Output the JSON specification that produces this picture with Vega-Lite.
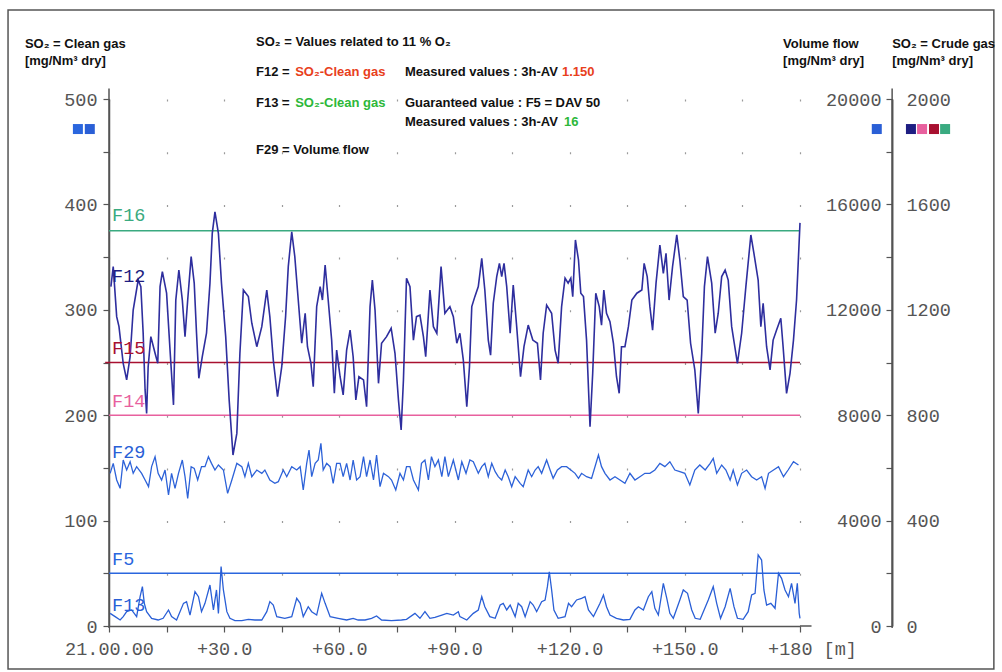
{
  "$schema": "https://vega.github.io/schema/vega-lite/v6.json",
  "width": 691,
  "height": 527,
  "autosize": {"type": "none"},
  "padding": {"left": 109, "top": 99, "right": 202, "bottom": 46},
  "background": "white",
  "config": {
    "view": {"stroke": null},
    "axis": {"labelFlush": false, "labelOverlap": false, "labelFont": "Liberation Mono", "labelFontSize": 18.5, "labelColor": "#555555", "title": null},
    "axisX": {
      "domainColor": "#555555", "domainWidth": 1.5,
      "tickColor": "#555555", "tickSize": 6, "tickWidth": 1.2,
      "labelPadding": 7,
      "grid": true, "gridColor": "#9a9a9a", "gridWidth": 1.2, "gridDash": [2, 50.7]
    }
  },
  "datasets": {
    "f12": [
      {"t":0.5,"c":1288},{"t":1.1,"c":1364},{"t":2.0,"c":1174},{"t":2.6,"c":1136},{"t":3.7,"c":997},{"t":4.6,"c":934},{"t":5.5,"c":1022},{"t":6.3,"c":1199},{"t":7.6,"c":1313},{"t":8.3,"c":1288},{"t":8.9,"c":1111},{"t":9.4,"c":896},{"t":9.8,"c":807},{"t":10.2,"c":984},{"t":10.9,"c":1098},{"t":12.0,"c":1035},{"t":12.7,"c":997},{"t":13.3,"c":1288},{"t":13.9,"c":1345},{"t":15.0,"c":1263},{"t":15.9,"c":1047},{"t":16.8,"c":839},{"t":17.4,"c":1237},{"t":18.2,"c":1351},{"t":19.1,"c":1237},{"t":19.8,"c":1098},{"t":20.5,"c":1237},{"t":21.4,"c":1402},{"t":22.2,"c":1301},{"t":22.8,"c":1111},{"t":23.4,"c":940},{"t":24.3,"c":1022},{"t":25.4,"c":1111},{"t":26.3,"c":1301},{"t":26.9,"c":1490},{"t":27.6,"c":1572},{"t":28.5,"c":1490},{"t":29.3,"c":1301},{"t":30.4,"c":1098},{"t":31.3,"c":858},{"t":32.3,"c":649},{"t":33.3,"c":731},{"t":34.1,"c":1035},{"t":35.0,"c":1275},{"t":36.3,"c":1250},{"t":37.2,"c":1149},{"t":38.5,"c":1060},{"t":39.8,"c":1136},{"t":41.1,"c":1275},{"t":41.9,"c":1174},{"t":42.8,"c":1009},{"t":43.9,"c":870},{"t":45.0,"c":984},{"t":46.0,"c":1174},{"t":46.7,"c":1364},{"t":47.6,"c":1496},{"t":48.4,"c":1402},{"t":49.3,"c":1237},{"t":50.2,"c":1073},{"t":51.1,"c":1187},{"t":51.7,"c":1060},{"t":52.6,"c":997},{"t":53.2,"c":908},{"t":54.1,"c":1212},{"t":55.0,"c":1288},{"t":55.6,"c":1237},{"t":56.3,"c":1370},{"t":57.1,"c":1237},{"t":58.0,"c":1085},{"t":58.7,"c":883},{"t":59.3,"c":1047},{"t":60.2,"c":946},{"t":61.0,"c":877},{"t":61.9,"c":1047},{"t":62.8,"c":1123},{"t":63.6,"c":1022},{"t":64.3,"c":858},{"t":65.1,"c":946},{"t":66.3,"c":934},{"t":67.1,"c":832},{"t":68.0,"c":1212},{"t":68.6,"c":1313},{"t":69.3,"c":1199},{"t":70.2,"c":921},{"t":71.0,"c":1073},{"t":72.3,"c":1098},{"t":73.5,"c":1130},{"t":74.5,"c":1035},{"t":75.4,"c":858},{"t":76.1,"c":744},{"t":76.7,"c":934},{"t":77.5,"c":1320},{"t":78.4,"c":1288},{"t":79.3,"c":1085},{"t":80.1,"c":1174},{"t":81.0,"c":1180},{"t":81.9,"c":1098},{"t":82.5,"c":1022},{"t":83.6,"c":1275},{"t":84.5,"c":1136},{"t":85.4,"c":1111},{"t":86.5,"c":1364},{"t":87.5,"c":1187},{"t":88.8,"c":1212},{"t":89.7,"c":1174},{"t":90.6,"c":1073},{"t":91.4,"c":1111},{"t":92.3,"c":1009},{"t":93.2,"c":832},{"t":93.9,"c":984},{"t":94.5,"c":1212},{"t":95.3,"c":1250},{"t":96.2,"c":1288},{"t":97.1,"c":1395},{"t":97.9,"c":1275},{"t":98.8,"c":1085},{"t":99.4,"c":1028},{"t":100.1,"c":1225},{"t":101.0,"c":1326},{"t":101.7,"c":1376},{"t":102.3,"c":1326},{"t":102.9,"c":1376},{"t":103.6,"c":1288},{"t":104.5,"c":1111},{"t":105.3,"c":1294},{"t":106.2,"c":1136},{"t":107.2,"c":946},{"t":108.1,"c":1060},{"t":109.2,"c":1142},{"t":110.4,"c":1085},{"t":111.6,"c":1073},{"t":112.4,"c":934},{"t":113.1,"c":1111},{"t":114.0,"c":1218},{"t":115.3,"c":1187},{"t":116.2,"c":1047},{"t":117.0,"c":997},{"t":117.9,"c":1212},{"t":118.8,"c":1320},{"t":119.6,"c":1301},{"t":120.3,"c":1320},{"t":120.8,"c":1250},{"t":121.5,"c":1465},{"t":122.3,"c":1389},{"t":122.9,"c":1263},{"t":123.6,"c":1250},{"t":124.4,"c":1085},{"t":125.3,"c":756},{"t":126.0,"c":959},{"t":126.8,"c":1263},{"t":127.7,"c":1212},{"t":128.3,"c":1142},{"t":128.9,"c":1275},{"t":129.6,"c":1187},{"t":130.5,"c":1155},{"t":131.4,"c":1073},{"t":132.2,"c":946},{"t":132.9,"c":883},{"t":133.5,"c":1060},{"t":134.4,"c":1060},{"t":135.3,"c":1136},{"t":136.2,"c":1237},{"t":137.5,"c":1263},{"t":138.8,"c":1275},{"t":139.4,"c":1376},{"t":140.2,"c":1326},{"t":140.9,"c":1212},{"t":141.6,"c":1123},{"t":142.5,"c":1301},{"t":143.5,"c":1446},{"t":144.4,"c":1338},{"t":145.1,"c":1414},{"t":145.9,"c":1237},{"t":146.8,"c":1364},{"t":147.9,"c":1484},{"t":148.7,"c":1389},{"t":149.6,"c":1250},{"t":150.6,"c":1237},{"t":151.5,"c":1073},{"t":152.6,"c":972},{"t":153.5,"c":807},{"t":154.4,"c":1035},{"t":155.1,"c":1288},{"t":155.9,"c":1402},{"t":157.0,"c":1301},{"t":157.9,"c":1111},{"t":158.7,"c":1187},{"t":159.6,"c":1326},{"t":160.5,"c":1351},{"t":161.3,"c":1313},{"t":162.2,"c":1136},{"t":163.7,"c":997},{"t":164.8,"c":1111},{"t":165.9,"c":1288},{"t":167.2,"c":1484},{"t":168.0,"c":1414},{"t":169.1,"c":1313},{"t":169.8,"c":1136},{"t":170.4,"c":1225},{"t":171.3,"c":1060},{"t":172.2,"c":972},{"t":173.0,"c":1085},{"t":173.9,"c":1123},{"t":175.0,"c":1168},{"t":175.6,"c":1060},{"t":176.5,"c":883},{"t":177.4,"c":959},{"t":178.3,"c":1085},{"t":179.1,"c":1237},{"t":179.6,"c":1400},{"t":180.0,"c":1530}
    ],
    "f29": [
      {"t":0.3,"q":5794},{"t":1.1,"q":6173},{"t":2.0,"q":5541},{"t":2.9,"q":5224},{"t":3.7,"q":6300},{"t":4.6,"q":5920},{"t":5.5,"q":6236},{"t":6.3,"q":5794},{"t":7.2,"q":6047},{"t":8.5,"q":5794},{"t":9.4,"q":5541},{"t":10.3,"q":5288},{"t":11.1,"q":6047},{"t":12.0,"q":6426},{"t":12.8,"q":5794},{"t":13.7,"q":5541},{"t":14.6,"q":5920},{"t":15.5,"q":4971},{"t":16.3,"q":5794},{"t":17.2,"q":5224},{"t":18.1,"q":5794},{"t":19.1,"q":6300},{"t":19.8,"q":5667},{"t":20.5,"q":4845},{"t":21.4,"q":6047},{"t":22.2,"q":5984},{"t":23.1,"q":5541},{"t":24.1,"q":6047},{"t":25.0,"q":6047},{"t":25.9,"q":6426},{"t":26.7,"q":6173},{"t":27.6,"q":5920},{"t":28.5,"q":6110},{"t":29.8,"q":5920},{"t":30.9,"q":5035},{"t":32.0,"q":5541},{"t":33.3,"q":6173},{"t":34.6,"q":6047},{"t":35.4,"q":5667},{"t":36.3,"q":6173},{"t":37.2,"q":5667},{"t":38.5,"q":5920},{"t":39.8,"q":5794},{"t":40.6,"q":5920},{"t":41.9,"q":5541},{"t":43.2,"q":5414},{"t":44.1,"q":5477},{"t":45.4,"q":5920},{"t":46.3,"q":5667},{"t":47.6,"q":6047},{"t":48.9,"q":5920},{"t":49.8,"q":6047},{"t":50.6,"q":5161},{"t":51.5,"q":6173},{"t":52.1,"q":6679},{"t":52.8,"q":5667},{"t":53.7,"q":6173},{"t":54.5,"q":6300},{"t":55.2,"q":6932},{"t":55.8,"q":5920},{"t":56.7,"q":6173},{"t":57.6,"q":6047},{"t":58.4,"q":5414},{"t":59.3,"q":6173},{"t":60.2,"q":6173},{"t":61.0,"q":5667},{"t":61.9,"q":6173},{"t":62.8,"q":5541},{"t":63.6,"q":6300},{"t":64.5,"q":5541},{"t":65.4,"q":5667},{"t":66.3,"q":6426},{"t":67.1,"q":5667},{"t":68.0,"q":6300},{"t":68.9,"q":5541},{"t":69.7,"q":6489},{"t":70.6,"q":5288},{"t":71.5,"q":5794},{"t":72.8,"q":5667},{"t":73.6,"q":5541},{"t":74.7,"q":5161},{"t":75.8,"q":5794},{"t":76.7,"q":5541},{"t":77.5,"q":6047},{"t":78.4,"q":6047},{"t":79.3,"q":5541},{"t":80.6,"q":5161},{"t":81.4,"q":6173},{"t":82.3,"q":6300},{"t":83.2,"q":5541},{"t":84.0,"q":6426},{"t":84.9,"q":6047},{"t":85.8,"q":6300},{"t":86.7,"q":5667},{"t":87.5,"q":6426},{"t":88.4,"q":5667},{"t":89.7,"q":6300},{"t":91.0,"q":5541},{"t":91.9,"q":6236},{"t":93.0,"q":5794},{"t":94.0,"q":6300},{"t":94.9,"q":6236},{"t":96.2,"q":5794},{"t":97.1,"q":6047},{"t":97.9,"q":6173},{"t":98.8,"q":5667},{"t":99.7,"q":6173},{"t":100.6,"q":5857},{"t":101.4,"q":5667},{"t":102.3,"q":5541},{"t":103.2,"q":5920},{"t":104.0,"q":5667},{"t":104.9,"q":5288},{"t":105.8,"q":5667},{"t":107.1,"q":5414},{"t":107.9,"q":5288},{"t":109.2,"q":5920},{"t":110.1,"q":5667},{"t":111.0,"q":5920},{"t":111.8,"q":6047},{"t":112.7,"q":5794},{"t":114.0,"q":6300},{"t":114.9,"q":5920},{"t":115.7,"q":5604},{"t":116.8,"q":5920},{"t":117.9,"q":6047},{"t":119.2,"q":6047},{"t":120.3,"q":5920},{"t":121.4,"q":5794},{"t":122.3,"q":5604},{"t":123.1,"q":5794},{"t":124.4,"q":5667},{"t":125.7,"q":5604},{"t":127.5,"q":6489},{"t":128.3,"q":6047},{"t":129.2,"q":5794},{"t":130.5,"q":5541},{"t":131.8,"q":5667},{"t":133.1,"q":5541},{"t":134.4,"q":5414},{"t":135.7,"q":5794},{"t":137.0,"q":5541},{"t":138.3,"q":5667},{"t":139.6,"q":5794},{"t":140.9,"q":5794},{"t":142.2,"q":5920},{"t":143.5,"q":6173},{"t":144.8,"q":6047},{"t":146.1,"q":6236},{"t":147.4,"q":5920},{"t":148.7,"q":5857},{"t":150.0,"q":5794},{"t":151.3,"q":5351},{"t":152.6,"q":5920},{"t":153.9,"q":6110},{"t":155.3,"q":5920},{"t":156.6,"q":6173},{"t":157.4,"q":6363},{"t":158.3,"q":5794},{"t":159.6,"q":6110},{"t":160.7,"q":5920},{"t":161.8,"q":5541},{"t":162.6,"q":5920},{"t":163.7,"q":5351},{"t":164.8,"q":5794},{"t":166.1,"q":5920},{"t":167.4,"q":5667},{"t":168.7,"q":5541},{"t":170.0,"q":5667},{"t":170.9,"q":5224},{"t":171.8,"q":5794},{"t":173.1,"q":5920},{"t":174.4,"q":6047},{"t":175.7,"q":5667},{"t":176.9,"q":5920},{"t":178.3,"q":6236},{"t":179.6,"q":6110}
    ],
    "f13": [
      {"t":0.3,"v":12.0},{"t":1.6,"v":8.9},{"t":2.9,"v":5.7},{"t":3.7,"v":8.9},{"t":4.6,"v":13.6},{"t":5.9,"v":15.2},{"t":7.2,"v":8.9},{"t":8.1,"v":27.8},{"t":8.7,"v":37.3},{"t":9.2,"v":21.5},{"t":9.8,"v":13.6},{"t":11.1,"v":7.3},{"t":12.8,"v":5.7},{"t":14.1,"v":7.3},{"t":15.5,"v":15.2},{"t":16.3,"v":8.9},{"t":17.6,"v":5.7},{"t":19.4,"v":21.5},{"t":20.2,"v":23.1},{"t":21.1,"v":10.4},{"t":22.4,"v":32.6},{"t":23.3,"v":27.8},{"t":24.1,"v":13.6},{"t":25.0,"v":21.5},{"t":26.3,"v":38.9},{"t":27.2,"v":15.2},{"t":28.0,"v":34.2},{"t":28.5,"v":12.0},{"t":29.2,"v":56.3},{"t":29.8,"v":34.2},{"t":30.7,"v":13.6},{"t":31.5,"v":7.3},{"t":32.8,"v":5.1},{"t":34.6,"v":5.1},{"t":36.3,"v":6.3},{"t":38.0,"v":5.7},{"t":39.8,"v":5.7},{"t":41.1,"v":13.6},{"t":41.9,"v":23.1},{"t":42.8,"v":19.9},{"t":43.7,"v":8.9},{"t":45.8,"v":7.3},{"t":47.6,"v":8.9},{"t":48.9,"v":26.3},{"t":49.8,"v":21.5},{"t":50.6,"v":8.9},{"t":51.9,"v":18.3},{"t":52.8,"v":13.6},{"t":54.1,"v":10.4},{"t":55.4,"v":31.0},{"t":56.3,"v":21.5},{"t":57.6,"v":8.9},{"t":59.7,"v":7.3},{"t":61.9,"v":5.7},{"t":63.6,"v":7.3},{"t":64.9,"v":5.7},{"t":66.7,"v":5.7},{"t":68.4,"v":7.3},{"t":69.7,"v":9.5},{"t":71.0,"v":5.7},{"t":73.6,"v":5.1},{"t":76.2,"v":5.7},{"t":77.5,"v":6.3},{"t":79.7,"v":12.0},{"t":81.0,"v":7.3},{"t":82.3,"v":13.6},{"t":83.6,"v":7.3},{"t":84.9,"v":8.2},{"t":86.7,"v":10.4},{"t":88.0,"v":12.0},{"t":89.7,"v":10.4},{"t":91.0,"v":13.6},{"t":91.4,"v":8.9},{"t":93.2,"v":5.7},{"t":94.9,"v":12.0},{"t":96.2,"v":15.2},{"t":97.1,"v":27.8},{"t":97.9,"v":18.3},{"t":99.2,"v":8.9},{"t":100.6,"v":7.3},{"t":101.9,"v":19.9},{"t":102.7,"v":21.5},{"t":103.6,"v":15.2},{"t":104.5,"v":19.9},{"t":105.8,"v":8.9},{"t":106.6,"v":21.5},{"t":107.5,"v":18.3},{"t":108.4,"v":8.9},{"t":109.7,"v":23.1},{"t":110.5,"v":19.9},{"t":111.4,"v":13.6},{"t":112.7,"v":23.1},{"t":113.6,"v":24.7},{"t":114.2,"v":37.3},{"t":114.7,"v":51.5},{"t":115.3,"v":34.2},{"t":115.9,"v":15.2},{"t":117.0,"v":7.3},{"t":118.8,"v":8.9},{"t":119.7,"v":21.5},{"t":120.5,"v":18.3},{"t":121.8,"v":24.7},{"t":123.1,"v":26.3},{"t":124.0,"v":27.8},{"t":124.9,"v":15.2},{"t":126.2,"v":8.9},{"t":127.9,"v":21.5},{"t":128.8,"v":29.4},{"t":129.6,"v":18.3},{"t":130.5,"v":10.4},{"t":132.2,"v":7.3},{"t":134.0,"v":5.7},{"t":135.7,"v":6.3},{"t":137.0,"v":15.2},{"t":137.9,"v":18.3},{"t":139.2,"v":15.2},{"t":140.5,"v":27.8},{"t":141.4,"v":32.6},{"t":142.2,"v":16.8},{"t":143.1,"v":10.4},{"t":144.4,"v":40.5},{"t":145.3,"v":26.3},{"t":146.1,"v":12.0},{"t":147.0,"v":7.3},{"t":148.7,"v":24.7},{"t":149.6,"v":34.2},{"t":150.7,"v":31.0},{"t":151.8,"v":15.2},{"t":152.7,"v":7.3},{"t":154.0,"v":6.3},{"t":156.1,"v":24.7},{"t":157.4,"v":37.3},{"t":158.3,"v":21.5},{"t":159.3,"v":7.3},{"t":160.5,"v":18.3},{"t":161.8,"v":35.7},{"t":162.8,"v":18.3},{"t":163.7,"v":7.3},{"t":165.2,"v":6.3},{"t":166.5,"v":13.6},{"t":167.4,"v":29.4},{"t":168.3,"v":31.0},{"t":169.1,"v":67.4},{"t":170.0,"v":62.6},{"t":170.6,"v":34.2},{"t":171.3,"v":19.9},{"t":172.4,"v":21.5},{"t":173.5,"v":16.8},{"t":174.4,"v":50.0},{"t":175.2,"v":45.2},{"t":176.1,"v":34.2},{"t":177.0,"v":27.8},{"t":177.8,"v":40.5},{"t":178.7,"v":21.5},{"t":179.3,"v":40.5},{"t":179.8,"v":12.0},{"t":180.0,"v":7.3}
    ],
    "crudeLimits": [
      {"s":"F16","c":1500,"t0":0,"t1":180},{"s":"F15","c":1000,"t0":-1,"t1":180},{"s":"F14","c":800,"t0":0,"t1":180}
    ],
    "cleanLimits": [
      {"s":"F5","v":50,"t0":0,"t1":180}
    ],
    "seriesLabels": [
      {"t":0.8,"v":390,"s":"F16","text":"F16"},
      {"t":0.8,"v":332,"s":"F12","text":"F12"},
      {"t":0.8,"v":264,"s":"F15","text":"F15"},
      {"t":0.8,"v":213.5,"s":"F14","text":"F14"},
      {"t":0.8,"v":165,"s":"F29","text":"F29"},
      {"t":0.8,"v":63.6,"s":"F5","text":"F5"},
      {"t":0.8,"v":20,"s":"F13","text":"F13"}
    ],
    "notes": [
      {"t":38.3,"v":554,"s":"blk","text":"SO₂ = Values related to 11 % O₂"},
      {"t":38.3,"v":525.6,"s":"blk","text":"F12 ="},
      {"t":48.5,"v":525.6,"s":"red","text":"SO₂-Clean gas"},
      {"t":77.1,"v":525.6,"s":"blk","text":"Measured values : 3h-AV"},
      {"t":118.0,"v":525.6,"s":"red","text":"1.150"},
      {"t":38.3,"v":496.2,"s":"blk","text":"F13 ="},
      {"t":48.5,"v":496.2,"s":"grn","text":"SO₂-Clean gas"},
      {"t":77.1,"v":496.2,"s":"blk","text":"Guaranteed value : F5 = DAV 50"},
      {"t":77.1,"v":478.2,"s":"blk","text":"Measured values : 3h-AV"},
      {"t":118.5,"v":478.2,"s":"grn","text":"16"},
      {"t":38.3,"v":451.6,"s":"blk","text":"F29 = Volume flow"},
      {"t":-21.9,"v":552.2,"s":"blk","text":"SO₂ = Clean gas"},
      {"t":-21.9,"v":536.1,"s":"blk","text":"[mg/Nm³ dry]"},
      {"t":175.6,"v":552.2,"s":"blk","text":"Volume flow"},
      {"t":175.6,"v":536.1,"s":"blk","text":"[mg/Nm³ dry]"},
      {"t":204.0,"v":552.2,"s":"blk","text":"SO₂ = Crude gas"},
      {"t":204.0,"v":536.1,"s":"blk","text":"[mg/Nm³ dry]"}
    ],
    "squares": [
      {"t":-8.1,"v":471.5,"s":"F5"},
      {"t":-5.0,"v":471.5,"s":"F13"},
      {"t":200.0,"v":471.5,"s":"F29"},
      {"t":208.9,"v":471.5,"s":"F12"},
      {"t":211.8,"v":471.5,"s":"F14"},
      {"t":214.9,"v":471.5,"s":"F15"},
      {"t":217.8,"v":471.5,"s":"F16"}
    ],
    "frame": [
      {"t0":-26.3,"t1":230.5,"v0":-40.8,"v1":584.4}
    ],
    "axisLines": [
      {"t0":204,"t1":204,"v0":-2,"v1":510},
      {"t0":0,"t1":0,"v0":-2,"v1":510},
      {"t0":180,"t1":183,"v0":0,"v1":0}
    ]
  },
  "resolve": {"scale": {"y": "independent"}},
  "layer": [
    {
      "data": {"name": "frame"},
      "mark": {"type": "rect", "fill": null, "stroke": "#555555", "strokeWidth": 1.5},
      "encoding": {
        "x": {"field": "t0", "type": "quantitative", "scale": {"domain": [0, 180], "nice": false, "zero": false}},
        "x2": {"field": "t1"},
        "y": {"field": "v0", "type": "quantitative", "scale": {"domain": [0, 500], "nice": false}, "axis": null},
        "y2": {"field": "v1"}
      }
    },
    {
      "data": {"name": "axisLines"},
      "mark": {"type": "rule", "color": "#555555", "strokeWidth": 1.5},
      "encoding": {
        "x": {"field": "t0", "type": "quantitative", "scale": {"domain": [0, 180], "nice": false, "zero": false}},
        "x2": {"field": "t1"},
        "y": {"field": "v0", "type": "quantitative", "scale": {"domain": [0, 500], "nice": false}, "axis": null},
        "y2": {"field": "v1"}
      }
    },
    {
      "data": {"name": "crudeLimits"},
      "mark": {"type": "rule", "strokeWidth": 1.6},
      "encoding": {
        "x": {"field": "t0", "type": "quantitative", "scale": {"domain": [0, 180], "nice": false, "zero": false}},
        "x2": {"field": "t1"},
        "y": {"field": "c", "type": "quantitative", "scale": {"domain": [0, 2000], "nice": false}, "axis": null},
        "color": {"field": "s", "type": "nominal", "legend": null,
          "scale": {"domain": ["blk","red","grn","F5","F13","F29","F12","F14","F15","F16"],
                    "range": ["#111111","#e8401c","#2db83a","#2a66de","#2a5fd6","#2a5fd6","#1e1e82","#e8609e","#a81030","#3aaa80"]}}
      }
    },
    {
      "data": {"name": "cleanLimits"},
      "mark": {"type": "rule", "strokeWidth": 1.6},
      "encoding": {
        "x": {"field": "t0", "type": "quantitative", "scale": {"domain": [0, 180], "nice": false, "zero": false}},
        "x2": {"field": "t1"},
        "y": {"field": "v", "type": "quantitative", "scale": {"domain": [0, 500], "nice": false}, "axis": null},
        "color": {"field": "s", "type": "nominal", "legend": null,
          "scale": {"domain": ["blk","red","grn","F5","F13","F29","F12","F14","F15","F16"],
                    "range": ["#111111","#e8401c","#2db83a","#2a66de","#2a5fd6","#2a5fd6","#1e1e82","#e8609e","#a81030","#3aaa80"]}}
      }
    },
    {
      "data": {"name": "f29"},
      "mark": {"type": "line", "color": "#2d62d8", "strokeWidth": 1.3},
      "encoding": {
        "x": {"field": "t", "type": "quantitative", "scale": {"domain": [0, 180], "nice": false, "zero": false}},
        "y": {"field": "q", "type": "quantitative",
          "scale": {"domain": [0, 20000], "nice": false},
          "axis": {
            "orient": "left", "offset": -783,
            "values": [0,2000,4000,6000,8000,10000,12000,14000,16000,18000,20000],
            "format": "d",
            "labelExpr": "datum.value % 4000 == 0 ? datum.label : ''",
            "labelPadding": 5,
            "domain": true, "domainColor": "#444444", "domainWidth": 1.5,
            "ticks": true, "tickColor": "#555555", "tickSize": 6, "tickWidth": 1.2,
            "grid": false
          }
        }
      }
    },
    {
      "data": {"name": "f13"},
      "mark": {"type": "line", "color": "#2a5fd6", "strokeWidth": 1.3},
      "encoding": {
        "x": {"field": "t", "type": "quantitative", "scale": {"domain": [0, 180], "nice": false, "zero": false},
          "axis": {
            "values": [0,15,30,45,60,75,90,105,120,135,150,165,180],
            "labelExpr": "datum.value % 30 != 0 ? '' : datum.value == 0 ? '21.00.00' : datum.value == 180 ? '+180 [m]' : '+' + format(datum.value, '.1f')",
            "labelOffset": {"condition": {"test": "datum.value == 180", "value": 12}, "value": 0}
          }
        },
        "y": {"field": "v", "type": "quantitative",
          "scale": {"domain": [0, 500], "nice": false},
          "axis": {
            "orient": "left",
            "values": [0,50,100,150,200,250,300,350,400,450,500],
            "labelExpr": "datum.value % 100 == 0 ? datum.label : ''",
            "labelPadding": 6,
            "domainColor": "#555555", "domainWidth": 1.5,
            "tickColor": "#555555", "tickSize": 6, "tickWidth": 1.2,
            "grid": false
          }
        }
      }
    },
    {
      "data": {"name": "f12"},
      "mark": {"type": "line", "color": "#2e2e9e", "strokeWidth": 1.6},
      "encoding": {
        "x": {"field": "t", "type": "quantitative", "scale": {"domain": [0, 180], "nice": false, "zero": false}},
        "y": {"field": "c", "type": "quantitative",
          "scale": {"domain": [0, 2000], "nice": false},
          "axis": {
            "orient": "right", "offset": 92,
            "values": [0,400,800,1200,1600,2000],
            "format": "d",
            "ticks": false, "tickSize": 0,
            "labelPadding": 14,
            "domain": true, "domainColor": "#444444", "domainWidth": 1.5,
            "grid": false
          }
        }
      }
    },
    {
      "data": {"name": "seriesLabels"},
      "mark": {"type": "text", "align": "left", "baseline": "middle", "font": "Liberation Mono", "fontSize": 18.5},
      "encoding": {
        "x": {"field": "t", "type": "quantitative", "scale": {"domain": [0, 180], "nice": false, "zero": false}},
        "y": {"field": "v", "type": "quantitative", "scale": {"domain": [0, 500], "nice": false}, "axis": null},
        "text": {"field": "text"},
        "color": {"field": "s", "type": "nominal", "legend": null,
          "scale": {"domain": ["blk","red","grn","F5","F13","F29","F12","F14","F15","F16"],
                    "range": ["#111111","#e8401c","#2db83a","#2a66de","#2a5fd6","#2a5fd6","#1e1e82","#e8609e","#a81030","#3aaa80"]}}
      }
    },
    {
      "data": {"name": "notes"},
      "mark": {"type": "text", "align": "left", "baseline": "middle", "font": "Liberation Sans", "fontSize": 13, "fontWeight": "bold"},
      "encoding": {
        "x": {"field": "t", "type": "quantitative", "scale": {"domain": [0, 180], "nice": false, "zero": false}},
        "y": {"field": "v", "type": "quantitative", "scale": {"domain": [0, 500], "nice": false}, "axis": null},
        "text": {"field": "text"},
        "color": {"field": "s", "type": "nominal", "legend": null,
          "scale": {"domain": ["blk","red","grn","F5","F13","F29","F12","F14","F15","F16"],
                    "range": ["#111111","#e8401c","#2db83a","#2a66de","#2a5fd6","#2a5fd6","#1e1e82","#e8609e","#a81030","#3aaa80"]}}
      }
    },
    {
      "data": {"name": "squares"},
      "mark": {"type": "point", "shape": "square", "filled": true, "size": 100, "opacity": 1},
      "encoding": {
        "x": {"field": "t", "type": "quantitative", "scale": {"domain": [0, 180], "nice": false, "zero": false}},
        "y": {"field": "v", "type": "quantitative", "scale": {"domain": [0, 500], "nice": false}, "axis": null},
        "color": {"field": "s", "type": "nominal", "legend": null,
          "scale": {"domain": ["blk","red","grn","F5","F13","F29","F12","F14","F15","F16"],
                    "range": ["#111111","#e8401c","#2db83a","#2a66de","#2a5fd6","#2a5fd6","#1e1e82","#e8609e","#a81030","#3aaa80"]}}
      }
    }
  ]
}
